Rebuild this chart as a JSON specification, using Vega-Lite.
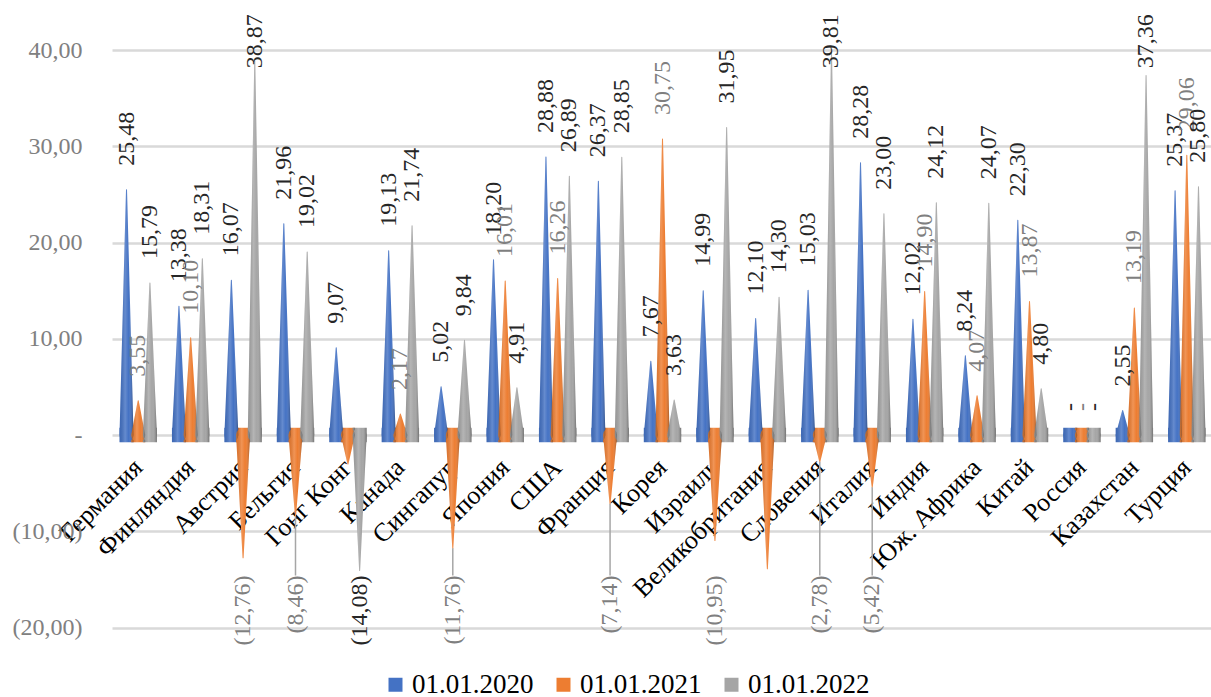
{
  "$schema": "https://vega.github.io/schema/vega-lite/v6.json",
  "width": 1101,
  "height": 577.5,
  "autosize": "none",
  "padding": {"left": 112, "top": 50, "right": 0, "bottom": 70},
  "background": "white",
  "config": {
    "locale": {"number": {"decimal": ",", "thousands": "\u00a0", "grouping": [3], "currency": ["", ""]}},
    "font": "Liberation Serif",
    "text": {"font": "Liberation Serif"},
    "view": {"stroke": null}
  },
  "data": {"values": [
    {"country": "Германия", "year": "01.01.2020", "value": 25.48},
    {"country": "Германия", "year": "01.01.2021", "value": 3.55},
    {"country": "Германия", "year": "01.01.2022", "value": 15.79},
    {"country": "Финляндия", "year": "01.01.2020", "value": 13.38},
    {"country": "Финляндия", "year": "01.01.2021", "value": 10.10},
    {"country": "Финляндия", "year": "01.01.2022", "value": 18.31},
    {"country": "Австрия", "year": "01.01.2020", "value": 16.07},
    {"country": "Австрия", "year": "01.01.2021", "value": -12.76},
    {"country": "Австрия", "year": "01.01.2022", "value": 38.87},
    {"country": "Бельгия", "year": "01.01.2020", "value": 21.96},
    {"country": "Бельгия", "year": "01.01.2021", "value": -8.46},
    {"country": "Бельгия", "year": "01.01.2022", "value": 19.02},
    {"country": "Гонг Конг", "year": "01.01.2020", "value": 9.07},
    {"country": "Гонг Конг", "year": "01.01.2021", "value": -3.0},
    {"country": "Гонг Конг", "year": "01.01.2022", "value": -14.08},
    {"country": "Канада", "year": "01.01.2020", "value": 19.13},
    {"country": "Канада", "year": "01.01.2021", "value": 2.17},
    {"country": "Канада", "year": "01.01.2022", "value": 21.74},
    {"country": "Сингапур", "year": "01.01.2020", "value": 5.02},
    {"country": "Сингапур", "year": "01.01.2021", "value": -11.76},
    {"country": "Сингапур", "year": "01.01.2022", "value": 9.84},
    {"country": "Япония", "year": "01.01.2020", "value": 18.20},
    {"country": "Япония", "year": "01.01.2021", "value": 16.01},
    {"country": "Япония", "year": "01.01.2022", "value": 4.91},
    {"country": "США", "year": "01.01.2020", "value": 28.88},
    {"country": "США", "year": "01.01.2021", "value": 16.26},
    {"country": "США", "year": "01.01.2022", "value": 26.89},
    {"country": "Франция", "year": "01.01.2020", "value": 26.37},
    {"country": "Франция", "year": "01.01.2021", "value": -7.14},
    {"country": "Франция", "year": "01.01.2022", "value": 28.85},
    {"country": "Корея", "year": "01.01.2020", "value": 7.67},
    {"country": "Корея", "year": "01.01.2021", "value": 30.75},
    {"country": "Корея", "year": "01.01.2022", "value": 3.63},
    {"country": "Израиль", "year": "01.01.2020", "value": 14.99},
    {"country": "Израиль", "year": "01.01.2021", "value": -10.95},
    {"country": "Израиль", "year": "01.01.2022", "value": 31.95},
    {"country": "Великобритания", "year": "01.01.2020", "value": 12.10},
    {"country": "Великобритания", "year": "01.01.2021", "value": -13.9},
    {"country": "Великобритания", "year": "01.01.2022", "value": 14.30},
    {"country": "Словения", "year": "01.01.2020", "value": 15.03},
    {"country": "Словения", "year": "01.01.2021", "value": -2.78},
    {"country": "Словения", "year": "01.01.2022", "value": 39.81},
    {"country": "Италия", "year": "01.01.2020", "value": 28.28},
    {"country": "Италия", "year": "01.01.2021", "value": -5.42},
    {"country": "Италия", "year": "01.01.2022", "value": 23.00},
    {"country": "Индия", "year": "01.01.2020", "value": 12.02},
    {"country": "Индия", "year": "01.01.2021", "value": 14.90},
    {"country": "Индия", "year": "01.01.2022", "value": 24.12},
    {"country": "Юж. Африка", "year": "01.01.2020", "value": 8.24},
    {"country": "Юж. Африка", "year": "01.01.2021", "value": 4.07},
    {"country": "Юж. Африка", "year": "01.01.2022", "value": 24.07},
    {"country": "Китай", "year": "01.01.2020", "value": 22.30},
    {"country": "Китай", "year": "01.01.2021", "value": 13.87},
    {"country": "Китай", "year": "01.01.2022", "value": 4.80},
    {"country": "Россия", "year": "01.01.2020", "value": 0},
    {"country": "Россия", "year": "01.01.2021", "value": 0},
    {"country": "Россия", "year": "01.01.2022", "value": 0},
    {"country": "Казахстан", "year": "01.01.2020", "value": 2.55},
    {"country": "Казахстан", "year": "01.01.2021", "value": 13.19},
    {"country": "Казахстан", "year": "01.01.2022", "value": 37.36},
    {"country": "Турция", "year": "01.01.2020", "value": 25.37},
    {"country": "Турция", "year": "01.01.2021", "value": 29.06},
    {"country": "Турция", "year": "01.01.2022", "value": 25.80}
  ]},
  "encoding": {
    "x": {
      "field": "country", "type": "nominal", "sort": null,
      "scale": {"paddingInner": 0, "paddingOuter": 0},
      "axis": {
        "title": null, "orient": "bottom", "offset": -192.5,
        "domain": false, "ticks": false, "tickSize": 0, "grid": false,
        "labelAngle": -45, "labelAlign": "right", "labelBaseline": "middle",
        "labelPadding": 28, "labelFontSize": 26, "labelColor": "#000000", "labelFont": "Liberation Serif",
        "labelLimit": 400, "labelOverlap": false, "labelBound": false
      }
    },
    "xOffset": {
      "field": "year", "type": "nominal",
      "scale": {"paddingInner": 0, "paddingOuter": 0.74}
    }
  },
  "layer": [
    {
      "mark": {"type": "bar", "width": 14},
      "encoding": {
        "y": {
          "datum": 0.75, "type": "quantitative",
          "scale": {"domain": [-20, 40], "nice": false, "zero": false},
          "axis": {
            "title": null, "values": [-20, -10, 0, 10, 20, 30, 40],
            "format": "(.2f",
            "labelExpr": "datum.value === 0 ? '-\u00a0\u00a0' : datum.label",
            "domain": false, "ticks": false, "tickSize": 0,
            "labelPadding": 30, "labelFontSize": 24, "labelColor": "#808080", "labelFont": "Liberation Serif",
            "grid": true, "gridColor": "#d9d9d9", "gridWidth": 2.5
          }
        },
        "y2": {"datum": -0.75},
        "color": {
          "field": "year", "type": "nominal",
          "scale": {"domain": ["01.01.2020", "01.01.2021", "01.01.2022"], "range": ["#4472C4", "#ED7D31", "#A5A5A5"]},
          "legend": {
            "title": null, "orient": "none", "direction": "horizontal",
            "legendX": 270, "legendY": 621,
            "symbolType": "square", "symbolSize": 196, "symbolStrokeWidth": 0, "symbolOpacity": 1,
            "labelFont": "Liberation Serif", "labelFontSize": 27, "labelColor": "#000000",
            "labelOffset": 3, "columnPadding": 16,
            "encode": {"symbols": {"update": {
              "shape": {"value": "square"},
              "fill": {"scale": "color", "field": "value"},
              "fillOpacity": {"value": 1},
              "strokeWidth": {"value": 0}
            }}}
          }
        }
      }
    },
    {
      "mark": {
        "type": "bar", "width": 14,
        "fill": {"gradient": "linear", "x1": 0, "y1": 0, "x2": 1, "y2": 0, "stops": [
          {"offset": 0, "color": "rgba(0,0,0,0.08)"},
          {"offset": 0.4, "color": "rgba(255,255,255,0.18)"},
          {"offset": 0.65, "color": "rgba(255,255,255,0)"},
          {"offset": 1, "color": "rgba(0,0,0,0.32)"}
        ]}
      },
      "encoding": {
        "y": {"datum": 0.75, "type": "quantitative"},
        "y2": {"datum": -0.75}
      }
    },
    {
      "transform": [
        {"impute": "value", "key": "pt", "keyvals": ["base"], "groupby": ["country", "year"], "value": 0}
      ],
      "mark": {"type": "trail"},
      "encoding": {
        "y": {"field": "value", "type": "quantitative"},
        "detail": {"field": "country"},
        "color": {"field": "year", "type": "nominal", "legend": null},
        "size": {"condition": {"test": "datum.pt === 'base'", "value": 14}, "value": 0}
      }
    },
    {
      "transform": [
        {"impute": "value", "key": "pt", "keyvals": ["base"], "groupby": ["country", "year"], "value": 0}
      ],
      "mark": {
        "type": "trail",
        "fill": {"gradient": "linear", "x1": 0, "y1": 0, "x2": 1, "y2": 0, "stops": [
          {"offset": 0, "color": "rgba(0,0,0,0.08)"},
          {"offset": 0.4, "color": "rgba(255,255,255,0.18)"},
          {"offset": 0.65, "color": "rgba(255,255,255,0)"},
          {"offset": 1, "color": "rgba(0,0,0,0.32)"}
        ]}
      },
      "encoding": {
        "y": {"field": "value", "type": "quantitative"},
        "detail": [{"field": "country"}, {"field": "year"}],
        "size": {"condition": {"test": "datum.pt === 'base'", "value": 14}, "value": 0}
      }
    },
    {
      "transform": [{"filter": "datum.value >= 0 && datum.value < 36"}],
      "mark": {"type": "text", "angle": 270, "align": "left", "baseline": "middle", "dx": 24, "fontSize": 24, "font": "Liberation Serif"},
      "encoding": {
        "y": {"field": "value", "type": "quantitative"},
        "text": {"condition": {"test": "datum.value === 0", "value": "-"}, "field": "value", "type": "quantitative", "format": ".2f"},
        "color": {"condition": {"test": "datum.year === '01.01.2021'", "value": "#7f7f7f"}, "value": "#262626"}
      }
    },
    {
      "transform": [{"filter": "datum.value >= 36"}],
      "mark": {"type": "text", "angle": 270, "align": "left", "baseline": "middle", "fontSize": 24, "font": "Liberation Serif"},
      "encoding": {
        "y": {"datum": 38.1, "type": "quantitative"},
        "text": {"field": "value", "type": "quantitative", "format": ".2f"},
        "color": {"value": "#262626"}
      }
    },
    {
      "transform": [
        {"filter": "datum.value < 0"},
        {"filter": {"not": {"or": [
          {"and": [{"field": "country", "equal": "Гонг Конг"}, {"field": "year", "equal": "01.01.2021"}]},
          {"and": [{"field": "country", "equal": "Великобритания"}, {"field": "year", "equal": "01.01.2021"}]}
        ]}}}
      ],
      "mark": {"type": "text", "angle": 270, "align": "right", "baseline": "middle", "fontSize": 24, "font": "Liberation Serif"},
      "encoding": {
        "y": {"datum": -14.6, "type": "quantitative"},
        "text": {"field": "value", "type": "quantitative", "format": "(.2f"},
        "color": {"condition": {"test": "datum.year === '01.01.2021'", "value": "#7f7f7f"}, "value": "#262626"}
      }
    },
    {
      "transform": [
        {"filter": {"field": "year", "equal": "01.01.2021"}},
        {"filter": {"field": "country", "oneOf": ["Бельгия", "Сингапур", "Франция", "Словения", "Италия"]}}
      ],
      "mark": {"type": "rule", "color": "#a6a6a6", "strokeWidth": 1.5},
      "encoding": {
        "y": {"field": "value", "type": "quantitative"},
        "y2": {"datum": -14.6}
      }
    }
  ]
}
